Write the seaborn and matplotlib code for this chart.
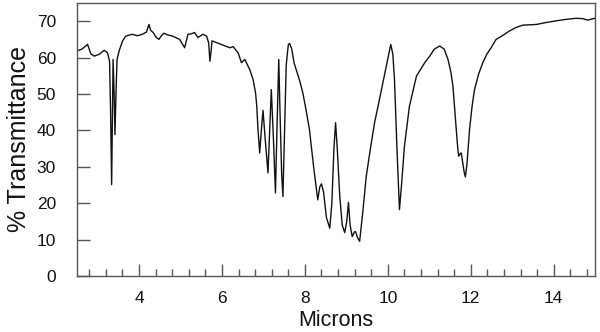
import matplotlib
matplotlib.use("Agg")
import matplotlib.pyplot as plt
from matplotlib.ticker import FixedLocator
import seaborn as sns
import pandas as pd

# IR spectrum: wavelength (microns) vs % transmittance
microns = [
    2.50, 2.62, 2.76, 2.84, 2.92, 3.04, 3.16, 3.24, 3.29, 3.315, 3.34, 3.36,
    3.375, 3.40, 3.42, 3.445, 3.47, 3.52, 3.60, 3.68, 3.84, 3.96, 4.08, 4.18,
    4.24, 4.28, 4.34, 4.42, 4.48, 4.54, 4.60, 4.70, 4.81, 4.92, 4.98, 5.10,
    5.18, 5.26, 5.34, 5.42, 5.54, 5.63, 5.68, 5.71, 5.74, 5.76, 5.87, 6.03,
    6.19, 6.27, 6.39, 6.47, 6.55, 6.67, 6.75, 6.81, 6.84, 6.87, 6.91, 6.95,
    6.99, 7.04, 7.11, 7.15, 7.19, 7.24, 7.29, 7.33, 7.37, 7.40, 7.44, 7.47,
    7.51, 7.55, 7.60, 7.63, 7.68, 7.74, 7.79, 7.87, 7.95, 8.03, 8.11, 8.21,
    8.31, 8.36, 8.40, 8.45, 8.52, 8.60, 8.65, 8.70, 8.74, 8.78, 8.84, 8.90,
    8.96, 9.01, 9.05, 9.09, 9.14, 9.19, 9.22, 9.27, 9.32, 9.40, 9.48, 9.58,
    9.68, 9.78, 9.88, 9.97, 10.07, 10.12, 10.16, 10.22, 10.28, 10.33, 10.40,
    10.52, 10.69, 10.89, 10.95, 11.01, 11.12, 11.25, 11.36, 11.45, 11.52,
    11.57, 11.61, 11.65, 11.69, 11.71, 11.74, 11.77, 11.80, 11.84, 11.87,
    11.91, 11.97, 12.03, 12.09, 12.19, 12.29, 12.39, 12.49, 12.61, 12.69,
    12.80, 12.93, 13.10, 13.25, 13.40, 13.58, 13.80, 14.06, 14.30, 14.54,
    14.70, 14.82, 14.92, 15.00,
]
transmittance = [
    61.8, 62.3, 63.6, 61.0, 60.4, 60.9, 62.0, 61.3, 59.0, 45.0, 25.1, 45.0,
    59.5, 50.0, 38.8, 50.0, 59.5, 61.8, 64.5, 65.9, 66.4, 66.0, 66.4, 67.0,
    69.1, 67.5, 66.9, 65.5, 65.0, 66.0, 66.7, 66.2, 65.9, 65.3, 65.0, 62.7,
    66.4, 66.5, 66.9, 65.5, 66.4, 65.9, 64.0, 59.0, 62.0, 64.6, 64.1, 63.4,
    62.7, 63.0, 61.3, 58.6, 59.5, 56.7, 54.0, 50.3, 46.6, 40.0, 33.8, 40.0,
    45.5, 38.0, 28.3, 40.0, 51.2, 38.0, 22.8, 42.0, 59.5, 45.0, 28.0, 21.8,
    40.0, 58.0, 63.5, 63.9, 62.5, 58.5, 56.7, 53.8, 50.3, 45.5, 40.2, 30.0,
    20.9, 24.5, 25.3, 23.0, 16.0, 13.1, 20.0, 35.0, 42.1, 35.0, 22.0, 14.0,
    11.9, 15.0, 20.2, 14.0, 10.8, 12.0, 12.2, 10.5, 9.5, 18.0, 27.4, 35.0,
    42.1, 47.5, 53.1, 58.0, 63.6, 61.0, 54.0, 35.0, 18.2, 25.0, 35.6,
    46.6, 54.9, 58.6, 59.5, 60.4, 62.3, 63.2, 62.3, 59.5, 56.0,
    52.1, 46.0, 40.2, 34.5, 32.9, 33.5, 33.8, 31.5, 28.5, 27.2,
    31.0, 40.2, 46.5, 51.2, 55.5, 58.6, 61.0, 62.7, 65.0, 65.5,
    66.3, 67.3, 68.3, 68.9, 69.0, 69.1, 69.6, 70.1, 70.5, 70.8,
    70.7, 70.3, 70.6, 70.8,
]
x_tick_labels = ["4", "6", "8", "10", "12", "14"]
y_tick_labels = ["0", "10", "20", "30", "40", "50", "60", "70"]

df = pd.DataFrame({"Microns": microns, "% Transmittance": transmittance})

frame_color = "#555555"
sns.set_style("ticks", {
    "xtick.direction": "in",
    "ytick.direction": "in",
    "axes.edgecolor": frame_color,
    "xtick.color": frame_color,
    "ytick.color": frame_color,
    "axes.labelcolor": "#111111",
    "text.color": "#111111",
})
plt.rcParams["font.family"] = ["Liberation Sans", "DejaVu Sans"]
plt.rcParams.update({
    "xtick.major.size": 9, "ytick.major.size": 9,
    "xtick.minor.size": 5, "xtick.major.width": 1.0,
    "ytick.major.width": 1.0, "xtick.minor.width": 1.0,
    "xtick.labelcolor": "#111111", "ytick.labelcolor": "#111111",
    "xtick.major.pad": 11, "ytick.major.pad": 15,
})

fig = plt.figure(figsize=(6.0, 3.32), dpi=100)
ax = fig.add_axes([0.128, 0.169, 0.864, 0.822])

sns.lineplot(data=df, x="Microns", y="% Transmittance", ax=ax,
             color="#111111", linewidth=1.0, sort=False)

ax.set_xlim(2.5, 15)
ax.set_ylim(0, 75)
ax.set_xticks([float(t) for t in x_tick_labels])
ax.set_xticklabels(x_tick_labels, fontsize=12.5)
ax.set_yticks([float(t) for t in y_tick_labels])
ax.set_yticklabels(y_tick_labels, fontsize=12.5)
ax.xaxis.set_minor_locator(FixedLocator(
    [v / 10 for v in range(28, 150, 4) if v % 20 != 0]))
ax.tick_params(axis="x", which="minor", direction="in", length=5,
               width=1.0, color=frame_color, bottom=True)
ax.tick_params(axis="both", which="major", direction="in", length=9,
               width=1.0, color=frame_color)

for side in ["top", "right", "left", "bottom"]:
    ax.spines[side].set_visible(True)
    ax.spines[side].set_color(frame_color)
    ax.spines[side].set_linewidth(1.0)

ax.set_xlabel("Microns", fontsize=15.5, labelpad=3)
ax.set_ylabel("% Transmittance", fontsize=18, labelpad=4)

fig.savefig("out.png", dpi=100)
